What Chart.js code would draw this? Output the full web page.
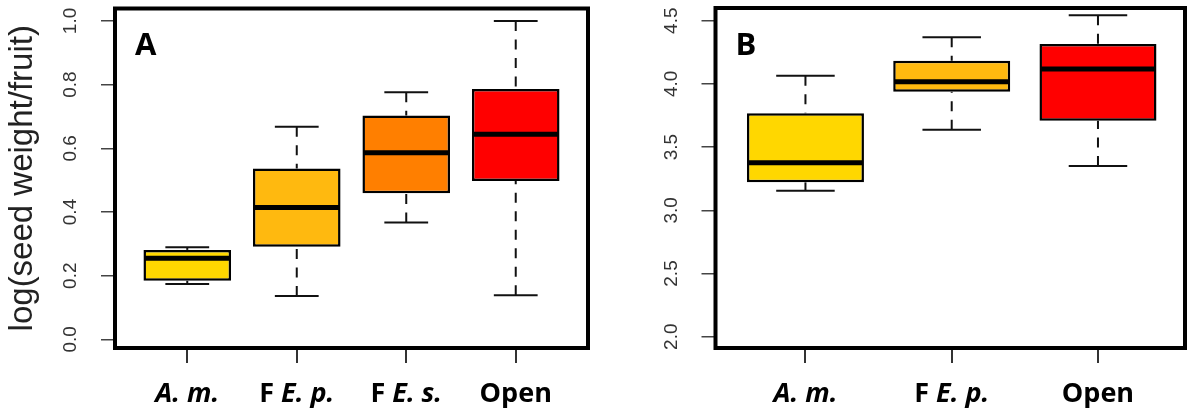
<!DOCTYPE html>
<html><head><meta charset="utf-8">
<script src="https://cdn.jsdelivr.net/npm/chart.js@4"></script>
<style>
html,body{margin:0;padding:0;background:#fff;overflow:hidden}
#wrapA{position:absolute;left:0;top:0;width:600px;height:413px}
#wrapB{position:absolute;left:600px;top:0;width:588px;height:413px}
canvas{display:block}
</style></head><body>
<div id="wrapA"><canvas id="cA" width="600" height="413"></canvas></div>
<div id="wrapB"><canvas id="cB" width="588" height="413"></canvas></div>
<script>
// ---- Panel A data ----
const categoriesA = ["A. m.", "F E. p.", "F E. s.", "Open"];
const whiskerLowA  = [0.174, 0.136, 0.367, 0.139];
const q1A          = [0.184, 0.291, 0.459, 0.497];
const medianA      = [0.255, 0.414, 0.586, 0.644];
const q3A          = [0.281, 0.537, 0.703, 0.786];
const whiskerHighA = [0.289, 0.668, 0.776, 1.000];
const colorsA = ["#FFD700", "#FFB90F", "#FF7F00", "#FF0000"];
const yTicksA = [0, 0.2, 0.4, 0.6, 0.8, 1.0];
const yTickLabelsA = ["0.0", "0.2", "0.4", "0.6", "0.8", "1.0"];
const yTitleA = "log(seed weight/fruit)";
const panelLabelA = "A";

// ---- Panel B data ----
const categoriesB = ["A. m.", "F E. p.", "Open"];
const whiskerLowB  = [3.155, 3.638, 3.350];
const q1B          = [3.221, 3.938, 3.709];
const medianB      = [3.377, 4.017, 4.118];
const q3B          = [3.767, 4.184, 4.316];
const whiskerHighB = [4.065, 4.369, 4.543];
const colorsB = ["#FFD700", "#FFB90F", "#FF0000"];
const yTicksB = [2.0, 2.5, 3.0, 3.5, 4.0, 4.5];
const yTickLabelsB = ["2.0", "2.5", "3.0", "3.5", "4.0", "4.5"];
const panelLabelB = "B";

const LABEL_FONT = '"Open Sans", "Liberation Sans", sans-serif';
const TICK_FONT = '"Liberation Sans", Arial, sans-serif';

function drawRichLabel(ctx, text, cx, baseline) {
  const tokens = text.split(' ');
  const parts = tokens.map((t, k) => ({
    t: k < tokens.length - 1 ? t + ' ' : t,
    it: t.indexOf('.') >= 0
  }));
  const fontOf = p => (p.it ? 'italic ' : '') + '700 27px ' + LABEL_FONT;
  let total = 0;
  parts.forEach(p => { ctx.font = fontOf(p); p.w = ctx.measureText(p.t).width; total += p.w; });
  let x = cx - total / 2;
  ctx.textAlign = 'left';
  ctx.textBaseline = 'alphabetic';
  ctx.fillStyle = '#000';
  parts.forEach(p => { ctx.font = fontOf(p); ctx.fillText(p.t, x, baseline); x += p.w; });
}

function boxPlugin(cfg) {
  return {
    id: 'boxExtras' + cfg.panel,
    afterDatasetsDraw(chart) {
      const ctx = chart.ctx, x = chart.scales.x, y = chart.scales.y;
      const bars = chart.getDatasetMeta(0).data;
      const line = (x1, y1, x2, y2) => { ctx.beginPath(); ctx.moveTo(x1, y1); ctx.lineTo(x2, y2); ctx.stroke(); };
      ctx.save();
      cfg.q1.forEach((q1, i) => {
        const cx = x.getPixelForValue(i + 1);
        const capHalf = x.getPixelForValue(i + 1 + 0.2) - cx;
        ctx.strokeStyle = '#111';
        ctx.lineCap = 'butt';
        ctx.lineWidth = 2;
        ctx.setLineDash([10, 8.5]);
        line(cx, y.getPixelForValue(cfg.high[i]), cx, y.getPixelForValue(cfg.q3[i]));
        line(cx, y.getPixelForValue(cfg.low[i]), cx, y.getPixelForValue(q1));
        ctx.setLineDash([]);
        line(cx - capHalf, y.getPixelForValue(cfg.high[i]), cx + capHalf, y.getPixelForValue(cfg.high[i]));
        line(cx - capHalf, y.getPixelForValue(cfg.low[i]), cx + capHalf, y.getPixelForValue(cfg.low[i]));
        const w = bars[i].width;
        ctx.strokeStyle = '#000';
        ctx.lineWidth = 5;
        const ym = y.getPixelForValue(cfg.med[i]);
        line(cx - w / 2 + 1, ym, cx + w / 2 - 1, ym);
      });
      ctx.restore();
    },
    afterDraw(chart) {
      const ctx = chart.ctx, a = chart.chartArea, x = chart.scales.x;
      ctx.save();
      ctx.strokeStyle = '#000';
      ctx.lineWidth = 4;
      ctx.strokeRect(a.left, a.top, a.right - a.left, a.bottom - a.top);
      cfg.labels.forEach((lab, i) => drawRichLabel(ctx, lab, x.getPixelForValue(i + 1), 402));
      ctx.font = '700 31px ' + LABEL_FONT;
      ctx.fillStyle = '#000';
      ctx.textAlign = 'left';
      ctx.textBaseline = 'alphabetic';
      ctx.fillText(cfg.panel, a.left + 20, 55);
      ctx.restore();
    }
  };
}

function makeChart(id, cfg) {
  return new Chart(document.getElementById(id), {
    type: 'bar',
    data: {
      datasets: [{
        data: cfg.q1.map((v, i) => ({ x: i + 1, y: [v, cfg.q3[i]] })),
        backgroundColor: cfg.colors,
        borderColor: '#000',
        borderWidth: 2.5,
        borderSkipped: false,
        barPercentage: 1,
        categoryPercentage: 0.8
      }]
    },
    options: {
      responsive: false,
      animation: false,
      events: [],
      layout: { padding: cfg.padding },
      plugins: { legend: { display: false }, tooltip: { enabled: false } },
      scales: {
        x: {
          type: 'linear',
          offset: false,
          min: cfg.xmin, max: cfg.xmax,
          afterBuildTicks: s => { s.ticks = cfg.labels.map((_, i) => ({ value: i + 1 })); },
          afterFit: s => { s.height = 65; s.paddingLeft = 0; s.paddingRight = 0; },
          ticks: { display: false },
          grid: { offset: false, drawOnChartArea: false, drawTicks: true, tickLength: 15, color: '#333', lineWidth: 2 },
          border: { display: false }
        },
        y: {
          type: 'linear',
          min: cfg.ymin, max: cfg.ymax,
          afterBuildTicks: s => { s.ticks = cfg.yTicks.map(v => ({ value: v })); },
          afterFit: s => { s.width = cfg.yWidth; s.paddingTop = 0; s.paddingBottom = 0; },
          ticks: {
            callback: (v, i) => cfg.yTickLabels[i],
            minRotation: 90, maxRotation: 90,
            crossAlign: 'center',
            padding: 17,
            color: '#333',
            font: { family: TICK_FONT, size: 19 }
          },
          grid: { drawOnChartArea: false, drawTicks: true, tickLength: 14, color: '#444', lineWidth: 1.5 },
          border: { display: false },
          title: cfg.yTitle ? {
            display: true, text: cfg.yTitle, color: '#222',
            font: { family: TICK_FONT, size: 33 },
            padding: { top: 3, bottom: 0 }
          } : { display: false }
        }
      }
    },
    plugins: [boxPlugin(cfg)]
  });
}

makeChart('cA', {
  panel: panelLabelA, labels: categoriesA, colors: colorsA,
  low: whiskerLowA, q1: q1A, med: medianA, q3: q3A, high: whiskerHighA,
  yTicks: yTicksA, yTickLabels: yTickLabelsA, yTitle: yTitleA,
  xmin: 0.34, xmax: 4.66, ymin: -0.027, ymax: 1.039,
  yWidth: 115, padding: { left: 0, right: 12, top: 8.5, bottom: 0 }
});
makeChart('cB', {
  panel: panelLabelB, labels: categoriesB, colors: colorsB,
  low: whiskerLowB, q1: q1B, med: medianB, q3: q3B, high: whiskerHighB,
  yTicks: yTicksB, yTickLabels: yTickLabelsB, yTitle: null,
  xmin: 0.385, xmax: 3.595, ymin: 1.9106, ymax: 4.6005,
  yWidth: 115.5, padding: { left: 0, right: 3, top: 8, bottom: 0 }
});
</script>
</body></html>
